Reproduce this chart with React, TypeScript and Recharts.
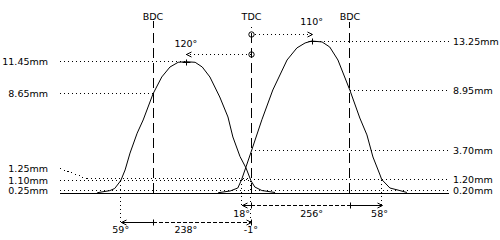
import React from 'react';
import { ComposedChart, Line, XAxis, YAxis, ReferenceLine, ReferenceDot } from 'recharts';

// ---- Data (crank angle in degrees, TDC = 0; lift in mm) ----
const exhaustDeg = [-282, -259, -250, -239, -231, -222, -209, -198, -180, -164, -149, -134, -120, -103, -90, -76, -58, -43, -34, -21, -10, -1, 6, 19, 43];
const exhaustLift = [0.05, 0.23, 0.42, 1.1, 2.03, 3.5, 5.23, 6.38, 8.65, 10.12, 10.99, 11.4, 11.45, 11.4, 10.99, 10.12, 8.38, 6.64, 4.9, 3.2, 2.2, 1.1, 0.55, 0.24, 0.07];
const intakeDeg = [-61, -39, -25, -18, -10, 0, 19, 39, 65, 83, 98, 110, 129, 143, 158, 180, 198, 211, 222, 235, 238, 253, 271, 284];
const intakeLift = [0.05, 0.2, 0.46, 1.2, 2.3, 3.7, 6.4, 8.99, 11.6, 12.65, 13.08, 13.25, 13.17, 12.73, 11.6, 8.95, 6.55, 5.08, 3.16, 1.59, 1.2, 0.46, 0.24, 0.07];

// Timing events
const bdcDeg = [-180, 180];
const tdcDeg = 0;
const deadCentreLabels = ['BDC', 'TDC', 'BDC'];
const exhaustOpenDeg = -239;
const exhaustCloseDeg = -1;
const intakeOpenDeg = -18;
const intakeCloseDeg = 238;
const exhaustPeak = { deg: -120, lift: 11.45 };
const intakePeak = { deg: 110, lift: 13.25 };
const exhaustOpenLift = 1.1;
const intakeCheckLift = 1.2;

// Tick labels
const leftLiftValues = [11.45, 8.65, 1.25, 1.1, 0.25];
const leftLiftLabels = ['11.45mm', '8.65mm', '1.25mm', '1.10mm', '0.25mm'];
const rightLiftValues = [13.25, 8.95, 3.7, 1.2, 0.2];
const rightLiftLabels = ['13.25mm', '8.95mm', '3.70mm', '1.20mm', '0.20mm'];
const peakAngleLabels = ['120°', '110°'];
const exhaustDurationLabels = ['59°', '238°', '-1°'];
const intakeDurationLabels = ['18°', '256°', '58°'];

const exhaustData = exhaustDeg.map((d, i) => ({ deg: d, lift: exhaustLift[i] }));
const intakeData = intakeDeg.map((d, i) => ({ deg: d, lift: intakeLift[i] }));

// ---- Layout (chart units) ----
const X_MIN = -350;
const X_MAX = 361;
const Y_MIN = -3.89;
const Y_MAX = 15.95;
const ROW1 = -1.02;
const ROW2 = -2.5;
const ROW1_TEXT = -1.72;
const ROW2_TEXT = -3.15;
const TOP_TEXT = 15.39;
const DC_TOPS = [15.0, 14.5, 14.9];
const CL_EXH = 12.1;
const CL_INT = 13.86;
const LEADER_Y = 2.15;
const LEADER_X = -300;

const FONT = { fontFamily: '"DejaVu Sans", sans-serif', fontSize: 9.5 };
const INK = '#000';
const DOT = '1 3';
const DASH_DC = '10 5';
const DASH_ROW = '4 2';

function seg(key: string, x1: number, y1: number, x2: number, y2: number, dash?: string) {
  return (
    <ReferenceLine
      key={key}
      segment={[{ x: x1, y: y1 }, { x: x2, y: y2 }]}
      stroke={INK}
      strokeWidth={1}
      strokeDasharray={dash}
      shapeRendering="crispEdges"
      ifOverflow="visible"
    />
  );
}

function txt(key: string, x: number, y: number, text: string, anchor: 'start' | 'middle' | 'end' = 'middle', dx = 0) {
  return (
    <ReferenceDot
      key={key}
      x={x}
      y={y}
      r={1}
      ifOverflow="visible"
      shape={(p: any) => (
        <text x={p.cx + dx} y={p.cy + 3.5} textAnchor={anchor} {...FONT} fill={INK}>
          {text}
        </text>
      )}
    />
  );
}

function mark(key: string, x: number, y: number, kind: string) {
  return (
    <ReferenceDot
      key={key}
      x={x}
      y={y}
      r={1}
      ifOverflow="visible"
      shape={(p: any) => {
        const cx = Math.round(p.cx) + 0.5;
        const cy = Math.round(p.cy) + 0.5;
        let d = '';
        if (kind === 'arrowR') d = `M${cx - 5},${cy - 2.5}L${cx},${cy}L${cx - 5},${cy + 2.5}`;
        else if (kind === 'arrowL') d = `M${cx + 5},${cy - 2.5}L${cx},${cy}L${cx + 5},${cy + 2.5}`;
        else if (kind === 'tick') d = `M${cx},${cy - 3}L${cx},${cy + 3}`;
        else if (kind === 'cross') d = `M${cx - 4},${cy}L${cx + 4},${cy}M${cx},${cy - 3}L${cx},${cy + 3}`;
        if (kind === 'circle') return <circle cx={cx} cy={cy} r={2.7} fill="none" stroke={INK} strokeWidth={1} />;
        return <path d={d} fill="none" stroke={INK} strokeWidth={1} />;
      }}
    />
  );
}

export default function App() {
  const dcXs = [bdcDeg[0], tdcDeg, bdcDeg[1]];
  return (
    <div style={{ position: 'absolute', left: 0, top: 0, width: 500, height: 240, background: '#fff' }}>
      <ComposedChart width={500} height={240} margin={{ top: 10, right: 51, bottom: 2, left: 60 }}>
        <XAxis type="number" dataKey="deg" domain={[X_MIN, X_MAX]} hide allowDataOverflow />
        <YAxis type="number" domain={[Y_MIN, Y_MAX]} hide allowDataOverflow />

        {/* baseline */}
        {seg('base', X_MIN, 0, X_MAX, 0)}

        {/* dead-centre dashed lines */}
        {dcXs.map((x, i) => seg(`dc${i}`, x, 0, x, DC_TOPS[i], DASH_DC))}
        {dcXs.map((x, i) => txt(`dct${i}`, x, TOP_TEXT, deadCentreLabels[i]))}

        {/* left lift guides */}
        {seg('l0', X_MIN, leftLiftValues[0], exhaustPeak.deg, leftLiftValues[0], DOT)}
        {seg('l1', X_MIN, leftLiftValues[1], bdcDeg[0], leftLiftValues[1], DOT)}
        {seg('l2a', X_MIN, LEADER_Y, LEADER_X, leftLiftValues[2], DOT)}
        {seg('l2b', LEADER_X, leftLiftValues[2], tdcDeg, leftLiftValues[2], DOT)}
        {seg('l3', X_MIN, leftLiftValues[3], exhaustCloseDeg, leftLiftValues[3], DOT)}
        {seg('l4', X_MIN, leftLiftValues[4], tdcDeg, leftLiftValues[4], DOT)}
        {leftLiftLabels.map((t, i) =>
          txt(`lt${i}`, X_MIN, i === 2 ? LEADER_Y : leftLiftValues[i], t, 'end', -12)
        )}

        {/* right lift guides */}
        {seg('r0', intakePeak.deg, rightLiftValues[0], X_MAX, rightLiftValues[0], DOT)}
        {seg('r1', bdcDeg[1], rightLiftValues[1], X_MAX, rightLiftValues[1], DOT)}
        {seg('r2', tdcDeg, rightLiftValues[2], X_MAX, rightLiftValues[2], DOT)}
        {seg('r3', intakeOpenDeg, rightLiftValues[3], X_MAX, rightLiftValues[3], DOT)}
        {seg('r4', tdcDeg, rightLiftValues[4], X_MAX, rightLiftValues[4], DOT)}
        {rightLiftLabels.map((t, i) => txt(`rt${i}`, X_MAX, rightLiftValues[i], t, 'start', 4))}

        {/* lobe centre lines */}
        {seg('clI', tdcDeg, CL_INT, intakePeak.deg, CL_INT, DOT)}
        {seg('clE', exhaustPeak.deg, CL_EXH, tdcDeg, CL_EXH, DOT)}
        {mark('cI', tdcDeg, CL_INT, 'circle')}
        {mark('cE', tdcDeg, CL_EXH, 'circle')}
        {mark('aI', intakePeak.deg, CL_INT, 'arrowR')}
        {mark('aE', exhaustPeak.deg, CL_EXH, 'arrowL')}
        {txt('pe', exhaustPeak.deg, 13.04, peakAngleLabels[0])}
        {txt('pi', intakePeak.deg, 14.91, peakAngleLabels[1])}

        {/* curves */}
        <Line data={exhaustData} dataKey="lift" type="linear" stroke={INK} strokeWidth={1} dot={false} isAnimationActive={false} />
        <Line data={intakeData} dataKey="lift" type="linear" stroke={INK} strokeWidth={1} dot={false} isAnimationActive={false} />
        {mark('pxE', exhaustPeak.deg, exhaustPeak.lift, 'cross')}
        {mark('pxI', intakePeak.deg, intakePeak.lift, 'cross')}

        {/* event drop lines */}
        {seg('vEo', exhaustOpenDeg, exhaustOpenLift, exhaustOpenDeg, ROW2, DOT)}
        {seg('vEc', exhaustCloseDeg, exhaustOpenLift, exhaustCloseDeg, ROW2, DOT)}
        {seg('vIo', intakeOpenDeg, intakeCheckLift, intakeOpenDeg, ROW1, DOT)}
        {seg('vIc', intakeCloseDeg, intakeCheckLift, intakeCloseDeg, ROW1, DOT)}

        {/* intake duration row */}
        {seg('r1a', intakeOpenDeg, ROW1, tdcDeg, ROW1)}
        {seg('r1b', tdcDeg, ROW1, bdcDeg[1], ROW1, DASH_ROW)}
        {seg('r1c', bdcDeg[1], ROW1, intakeCloseDeg, ROW1)}
        {mark('r1al', intakeOpenDeg, ROW1, 'arrowL')}
        {mark('r1ar', intakeCloseDeg, ROW1, 'arrowR')}
        {mark('r1t0', tdcDeg, ROW1, 'tick')}
        {mark('r1t1', bdcDeg[1], ROW1, 'tick')}
        {txt('r1l0', intakeOpenDeg, ROW1_TEXT, intakeDurationLabels[0])}
        {txt('r1l1', (intakeOpenDeg + intakeCloseDeg) / 2, ROW1_TEXT, intakeDurationLabels[1])}
        {txt('r1l2', intakeCloseDeg - 4, ROW1_TEXT, intakeDurationLabels[2])}

        {/* exhaust duration row */}
        {seg('r2a', exhaustOpenDeg, ROW2, bdcDeg[0], ROW2)}
        {seg('r2b', bdcDeg[0], ROW2, exhaustCloseDeg, ROW2, DASH_ROW)}
        {mark('r2al', exhaustOpenDeg, ROW2, 'arrowL')}
        {mark('r2ar', exhaustCloseDeg, ROW2, 'arrowR')}
        {mark('r2t0', bdcDeg[0], ROW2, 'tick')}
        {mark('r2t1', tdcDeg, ROW2, 'tick')}
        {txt('r2l0', exhaustOpenDeg, ROW2_TEXT, exhaustDurationLabels[0])}
        {txt('r2l1', (exhaustOpenDeg + exhaustCloseDeg) / 2, ROW2_TEXT, exhaustDurationLabels[1])}
        {txt('r2l2', exhaustCloseDeg, ROW2_TEXT, exhaustDurationLabels[2])}
      </ComposedChart>
    </div>
  );
}
